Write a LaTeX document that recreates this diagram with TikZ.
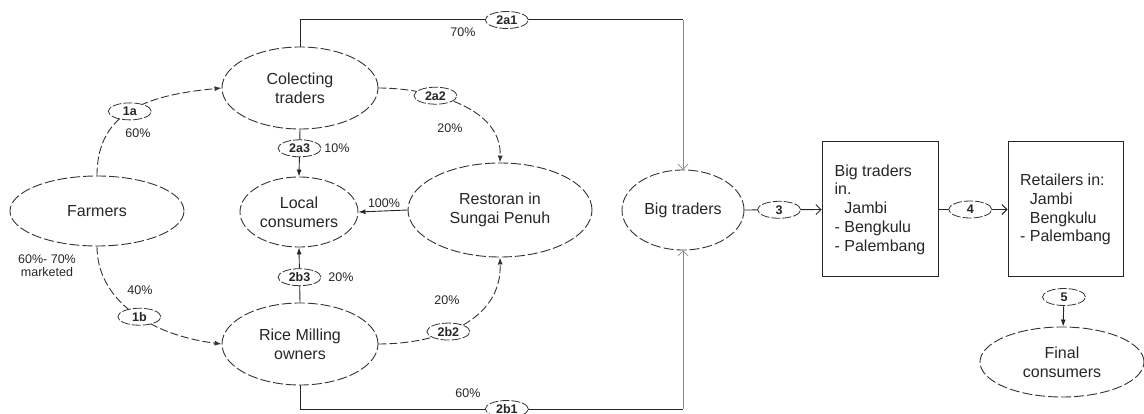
\documentclass[tikz,border=0pt]{standalone}
\usepackage{fontspec}
\setmainfont{Liberation Sans}
\usetikzlibrary{shapes.geometric,arrows.meta}
\begin{document}
\begin{tikzpicture}[x=1pt,y=-1pt,
  every node/.style={font=\fontsize{16}{18.75}\selectfont, text=black!85},
  bigell/.style={ellipse, draw=black!80, line width=0.9pt, dash pattern=on 10pt off 3pt, inner sep=0pt, align=center},
  lab/.style={ellipse, draw=black!80, line width=0.8pt, dash pattern=on 9pt off 2pt, fill=white, minimum width=43pt, minimum height=17pt, inner sep=0pt, font=\fontsize{12.5}{13}\selectfont\bfseries},
  pct/.style={font=\fontsize{12.5}{13}\selectfont, inner sep=1pt, align=center},
  boxnode/.style={rectangle, draw=black!85, line width=1pt, minimum height=135pt, align=left, inner sep=0pt},
  curvy/.style={draw=black!80, line width=0.9pt, dash pattern=on 8pt off 3pt, -{Latex[length=7pt,width=5pt]}},
  solidarr/.style={draw=black!85, line width=0.9pt, -{Latex[length=7pt,width=5pt]}},
  openarr/.style={draw=black!85, line width=0.9pt, -{Straight Barb[length=5pt,width=10pt]}},
  grayarr/.style={draw=black!45, line width=0.7pt, -{Straight Barb[length=5pt,width=10pt]}},
  plainline/.style={draw=black!85, line width=1pt}
]
\useasboundingbox (0,0) rectangle (1144,414);

% main nodes
\node[bigell, minimum width=174pt, minimum height=70pt] (farm) at (97,211) {Farmers};
\node[bigell, minimum width=156pt, minimum height=82pt] (coll) at (300,88) {Colecting\\traders};
\node[bigell, minimum width=118pt, minimum height=70pt] (loc) at (299,212) {Local\\consumers};
\node[bigell, minimum width=156pt, minimum height=82pt] (rice) at (300,344) {Rice Milling\\owners};
\node[bigell, minimum width=184pt, minimum height=94pt] (rest) at (500,210) {Restoran in\\Sungai Penuh};
\node[bigell, minimum width=122pt, minimum height=80pt] (big) at (683,210) {Big traders};
\node[boxnode, minimum width=116pt] (box1) at (880,209.5) {Big traders\\in.\\\phantom{- }Jambi\\- Bengkulu\\- Palembang};
\node[boxnode, minimum width=115pt] (box2) at (1065.5,209.5) {Retailers in:\\\phantom{- }Jambi\\\phantom{- }Bengkulu\\- Palembang};
\node[bigell, minimum width=164pt, minimum height=70pt] (final) at (1062,362) {Final\\consumers};

% curved connectors
\draw[curvy] (farm.north) .. controls (97,110) and (150,95) .. (coll.west) node[lab,pos=0.48] (l1a) {1a};
\draw[curvy] (farm.south) .. controls (97,300) and (150,335) .. (rice.west) node[lab,pos=0.55] (l1b) {1b};
\draw[curvy] (coll.east) .. controls (425,88) and (502,105) .. (rest.north) node[lab,pos=0.36] (l2a2) {2a2};
\draw[curvy] (rice.east) .. controls (440,344) and (502,320) .. (rest.south) node[lab,pos=0.4] (l2b2) {2b2};

% straight connectors
\draw[solidarr] (coll.south) -- (loc.north) node[lab,pos=0.4] (l2a3) {2a3};
\draw[solidarr] (rice.north) -- (loc.south) node[lab,pos=0.46] (l2b3) {2b3};
\draw[solidarr] (rest.west) -- (loc.east);
\node[pct, fill=white] (p100) at (384,203) {100\%};

\coordinate (tc) at (683,20);
\draw[plainline] (coll.north) |- (tc) node[lab,pos=0.77] (l2a1) {2a1};
\draw[grayarr] (tc) -- (big.north);
\coordinate (bc) at (683,409);
\draw[plainline] (rice.south) |- (bc) node[lab,pos=0.77] (l2b1) {2b1};
\draw[grayarr] (bc) -- (big.south);

\draw[openarr] (big.east) -- (box1.west) node[lab,pos=0.45] (l3) {3};
\draw[openarr] (box1.east) -- (box2.west) node[lab,pos=0.46] (l4) {4};
\node[lab] (l5) at (1064,297) {5};
\draw[solidarr] (l5) -- (final);

% percentage labels
\node[pct] (p1a) at (138,133) {60\%};
\node[pct] (p1b) at (140,290) {40\%};
\node[pct] (pm) at (47,266) {60\%- 70\%\\marketed};
\node[pct] (p2a3) at (337,148) {10\%};
\node[pct] (p2b3) at (341,277) {20\%};
\node[pct] (p2a2) at (450,128) {20\%};
\node[pct] (p2b2) at (447,300) {20\%};
\node[pct] (p2a1) at (463,32) {70\%};
\node[pct] (p2b1) at (468,393) {60\%};
\end{tikzpicture}
\end{document}
